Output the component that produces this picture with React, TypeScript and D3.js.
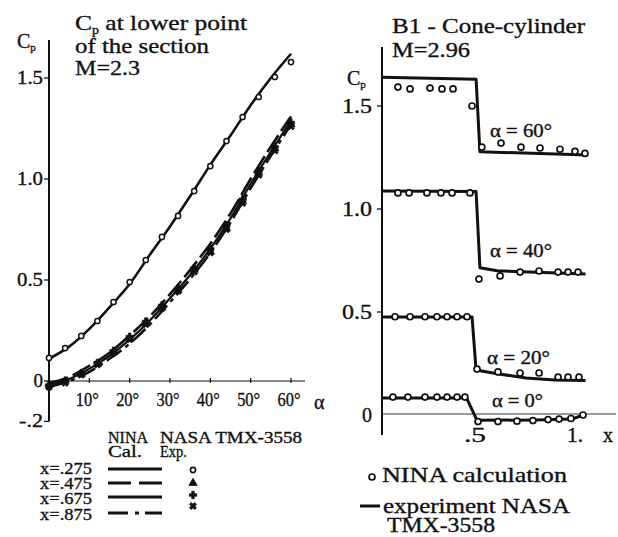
import React from "react";
import * as d3 from "d3";

// ---------- Left panel: Cp at lower point of the section, M=2.3 ----------
const alphaLine = [0, 5, 10, 15, 20, 25, 30, 35, 40, 45, 50, 55, 60];
const calc275 = [0.11, 0.17, 0.258, 0.365, 0.48, 0.625, 0.765, 0.915, 1.07, 1.215, 1.365, 1.5, 1.62];
const calc475 = [-0.01, 0.02, 0.075, 0.14, 0.225, 0.32, 0.43, 0.55, 0.68, 0.83, 1.0, 1.16, 1.31];
const calc675 = [-0.02, 0.01, 0.06, 0.125, 0.205, 0.3, 0.41, 0.525, 0.655, 0.805, 0.975, 1.135, 1.29];
const calc875 = [-0.03, 0.0, 0.045, 0.11, 0.185, 0.28, 0.39, 0.505, 0.635, 0.785, 0.955, 1.115, 1.27];

const alphaExp = [0, 4, 8, 12, 16, 20, 24, 28, 32, 36, 40, 44, 48, 52, 56, 60];
const exp275 = [0.114, 0.163, 0.223, 0.297, 0.391, 0.49, 0.599, 0.713, 0.817, 0.94, 1.064, 1.188, 1.307, 1.406, 1.505, 1.579];
const exp475 = [-0.02, 0.0, 0.035, 0.085, 0.145, 0.21, 0.285, 0.365, 0.45, 0.55, 0.64, 0.757, 0.89, 1.03, 1.15, 1.27];
const exp675 = [-0.02, 0.0, 0.04, 0.09, 0.15, 0.22, 0.295, 0.375, 0.46, 0.56, 0.655, 0.77, 0.9, 1.04, 1.16, 1.28];
const exp875 = [-0.03, -0.01, 0.03, 0.08, 0.14, 0.205, 0.28, 0.36, 0.445, 0.54, 0.635, 0.75, 0.88, 1.02, 1.14, 1.26];

const xTicksL = [10, 20, 30, 40, 50, 60];
const xTickLabelsL = ["10°", "20°", "30°", "40°", "50°", "60°"];
const yTicksL = [-0.2, 0, 0.5, 1.0, 1.5];
const yTickLabelsL = ["-.2", "0", "0.5", "1.0", "1.5"];
const legendRowsL = ["x=.275", "x=.475", "x=.675", "x=.875"];

// ---------- Right panel: B1 cone-cylinder, M=2.96 ----------
const exp60X = [0, 0.49, 0.51, 1.07];
const exp60 = [1.64, 1.63, 1.278, 1.262];
const calc60X = [0.083, 0.146, 0.25, 0.3125, 0.37, 0.469, 0.52, 0.62, 0.724, 0.823, 0.927, 1.005, 1.057];
const calc60 = [1.592, 1.583, 1.587, 1.583, 1.583, 1.5, 1.3, 1.32, 1.3, 1.296, 1.29, 1.28, 1.27];

const exp40X = [0, 0.49, 0.51, 0.6, 1.06];
const exp40 = [1.087, 1.085, 0.715, 0.7, 0.685];
const calc40X = [0.083, 0.141, 0.234, 0.307, 0.365, 0.458, 0.505, 0.615, 0.719, 0.818, 0.917, 0.969, 1.021];
const calc40 = [1.078, 1.078, 1.078, 1.078, 1.078, 1.078, 0.66, 0.675, 0.694, 0.699, 0.694, 0.694, 0.694];

const exp20X = [0, 0.469, 0.49, 0.6, 0.75, 0.9, 1.06];
const exp20 = [0.476, 0.476, 0.218, 0.2, 0.18, 0.17, 0.168];
const calc20X = [0.068, 0.146, 0.224, 0.286, 0.339, 0.391, 0.443, 0.495, 0.604, 0.719, 0.818, 0.917, 0.969, 1.026];
const calc20 = [0.477, 0.477, 0.477, 0.477, 0.477, 0.477, 0.477, 0.223, 0.209, 0.204, 0.204, 0.184, 0.184, 0.184];

const exp0X = [0, 0.44, 0.495, 0.8, 0.99, 1.047];
const exp0 = [0.083, 0.083, -0.026, -0.024, -0.02, 0.0];
const calc0X = [0.057, 0.135, 0.224, 0.286, 0.339, 0.391, 0.432, 0.5, 0.604, 0.703, 0.786, 0.865, 0.922, 0.984, 1.047];
const calc0 = [0.087, 0.087, 0.087, 0.087, 0.087, 0.087, 0.087, -0.032, -0.032, -0.03, -0.027, -0.022, -0.02, -0.017, 0.0];

const alphaLabelsR = ["α = 60°", "α = 40°", "α = 20°", "α = 0°"];
const yTicksR = [0, 0.5, 1.0, 1.5];
const yTickLabelsR = ["0", "0.5", "1.0", "1.5"];
const xTicksR = [0.5, 1];
const xTickLabelsR = [".5", "1."];

const FONT = "'Liberation Serif', 'Times New Roman', serif";
const TXT = "#111";

type TP = { x: number; y: number; w?: number; size?: number; anchor?: string; children: React.ReactNode };
function T({ x, y, w, size = 19, anchor = "start", children }: TP) {
  const extra: any = w ? { textLength: w, lengthAdjust: "spacingAndGlyphs" } : {};
  return (
    <text
      x={x}
      y={y}
      fontSize={size}
      fontFamily={FONT}
      textAnchor={anchor as any}
      fill={TXT}
      stroke={TXT}
      strokeWidth={0.35}
      {...extra}
    >
      {children}
    </text>
  );
}

export default function App() {
  const xL = d3.scaleLinear().domain([0, 60]).range([49, 291]);
  const yL = d3.scaleLinear().domain([0, 1.5]).range([381, 78]);
  const xR = d3.scaleLinear().domain([0, 1]).range([382, 574]);
  const yR = d3.scaleLinear().domain([0, 1.5]).range([415, 106]);

  const lineL = d3
    .line<[number, number]>()
    .x((d) => xL(d[0]))
    .y((d) => yL(d[1]))
    .curve(d3.curveMonotoneX);
  const lineR = d3
    .line<[number, number]>()
    .x((d) => xR(d[0]))
    .y((d) => yR(d[1]));

  const zipL = (ys: number[]) => alphaLine.map((a, i) => [a, ys[i]] as [number, number]);
  const zip = (xs: number[], ys: number[]) => xs.map((a, i) => [a, ys[i]] as [number, number]);

  const calcSeries = [
    { v: calc275, dash: undefined as string | undefined, w: 2.6 },
    { v: calc475, dash: "20,5", w: 2.6 },
    { v: calc675, dash: undefined, w: 2.2 },
    { v: calc875, dash: "18,5,4,5", w: 2.6 },
  ];

  const tri = d3.symbol().type(d3.symbolTriangle).size(30)()!;
  const cross = d3.symbol().type(d3.symbolCross).size(30)()!;

  const expL = [exp475, exp675, exp875];
  const markerPath = [tri, cross, cross];
  const markerRot = [0, 0, 45];

  const rightExp = [zip(exp60X, exp60), zip(exp40X, exp40), zip(exp20X, exp20), zip(exp0X, exp0)];
  const rightCalc = [zip(calc60X, calc60), zip(calc40X, calc40), zip(calc20X, calc20), zip(calc0X, calc0)];
  const alphaLabelPos = [
    { x: 490, y: 137, w: 62 },
    { x: 490, y: 257, w: 62 },
    { x: 487, y: 364, w: 63 },
    { x: 492, y: 407, w: 51 },
  ];

  const legendLineY = [469, 483, 497, 513];
  const legendTextY = [474, 489, 504, 520];
  const legendSymY = [470, 483, 495, 506];

  return (
    <svg width={618} height={537} style={{ position: "absolute", left: 0, top: 0, background: "#fff" }}>
      <rect x={0} y={0} width={618} height={537} fill="#fff" />

      {/* ================= LEFT PANEL ================= */}
      <text
        x={75}
        y={30}
        fontSize={22}
        fontFamily={FONT}
        fill={TXT}
        stroke={TXT}
        strokeWidth={0.35}
        textLength={172}
        lengthAdjust="spacingAndGlyphs"
      >
        C<tspan fontSize={12} dy={4}>p</tspan>
        <tspan dy={-4}> at lower  point</tspan>
      </text>
      <T x={75} y={53} w={134} size={22}>of the section</T>
      <T x={75} y={75} w={65} size={22}>M=2.3</T>

      <text x={17} y={48} fontSize={20} fontFamily={FONT} fill={TXT} stroke={TXT} strokeWidth={0.35}>
        C<tspan fontSize={11} dy={3}>p</tspan>
      </text>

      <line x1={xL(0)} x2={xL(0)} y1={40} y2={yL(-0.2)} stroke="#111" strokeWidth={2} />
      <line x1={xL(0)} x2={305} y1={yL(0)} y2={yL(0)} stroke="#111" strokeWidth={1.2} />
      {yTicksL.map((v, i) => (
        <g key={"ylt" + i}>
          <line x1={xL(0) - 5} x2={xL(0)} y1={yL(v)} y2={yL(v)} stroke="#111" strokeWidth={1.3} />
          <T
            x={43}
            y={yL(v) + 6}
            size={19}
            anchor="end"
            w={yTickLabelsL[i].length > 1 ? (yTickLabelsL[i] === "-.2" ? 24 : 26) : undefined}
          >
            {yTickLabelsL[i]}
          </T>
        </g>
      ))}
      {xTicksL.map((v, i) => (
        <g key={"xlt" + i}>
          <line x1={xL(v)} x2={xL(v)} y1={yL(0) - 3} y2={yL(0) + 2} stroke="#111" strokeWidth={1.2} />
          <T x={xL(v) - 2} y={406} size={19} anchor="middle" w={23}>
            {xTickLabelsL[i]}
          </T>
        </g>
      ))}
      <T x={314} y={409} size={20}>α</T>

      {calcSeries.map((s, i) => (
        <path
          key={"cl" + i}
          d={lineL(zipL(s.v)) || ""}
          fill="none"
          stroke="#111"
          strokeWidth={s.w}
          strokeDasharray={s.dash}
        />
      ))}
      {alphaExp.map((a, i) => (
        <circle key={"c275" + i} cx={xL(a)} cy={yL(exp275[i])} r={2.6} fill="#fff" stroke="#111" strokeWidth={1.5} />
      ))}
      {expL.map((ser, k) =>
        alphaExp.map((a, i) => (
          <path
            key={"m" + k + "-" + i}
            d={markerPath[k]}
            transform={`translate(${xL(a)},${yL(ser[i])}) rotate(${markerRot[k]})`}
            fill="#111"
            stroke="#111"
            strokeWidth={0.6}
          />
        ))
      )}

      {/* left legend */}
      <T x={108} y={443} w={40} size={17}>NINA</T>
      <T x={108} y={457} w={34} size={17}>Cal.</T>
      <T x={160} y={443} w={142} size={17}>NASA TMX-3558</T>
      <T x={160} y={457} w={27} size={17}>Exp.</T>
      {legendRowsL.map((r, i) => (
        <g key={"lg" + i}>
          <T x={40} y={legendTextY[i]} w={52} size={17}>{r}</T>
          <line
            x1={108}
            x2={162}
            y1={legendLineY[i]}
            y2={legendLineY[i]}
            stroke="#111"
            strokeWidth={3}
            strokeDasharray={i === 1 ? "23,8" : i === 3 ? "20,7,4,6" : undefined}
          />
        </g>
      ))}
      <circle cx={193} cy={legendSymY[0]} r={2.6} fill="#fff" stroke="#111" strokeWidth={1.6} />
      {[tri, cross, cross].map((p, k) => (
        <path
          key={"ls" + k}
          d={p}
          transform={`translate(193,${legendSymY[k + 1]}) rotate(${markerRot[k]})`}
          fill="#111"
          stroke="#111"
          strokeWidth={0.8}
        />
      ))}

      {/* ================= RIGHT PANEL ================= */}
      <T x={392} y={33} w={193} size={21}>B1 - Cone-cylinder</T>
      <T x={392} y={57} w={78} size={21}>M=2.96</T>
      <text x={347} y={85} fontSize={20} fontFamily={FONT} fill={TXT} stroke={TXT} strokeWidth={0.35}>
        C<tspan fontSize={11} dy={3}>p</tspan>
      </text>

      <line x1={xR(0)} x2={xR(0)} y1={47} y2={435} stroke="#111" strokeWidth={2} />
      <line x1={xR(0)} x2={616} y1={yR(0) - 1} y2={yR(0) - 1} stroke="#333" strokeWidth={1} />
      {yTicksR.map((v, i) => (
        <g key={"yrt" + i}>
          {v > 0 && <line x1={xR(0) - 5} x2={xR(0)} y1={yR(v)} y2={yR(v)} stroke="#111" strokeWidth={1.3} />}
          <T x={372} y={yR(v) + 7} size={20} anchor="end" w={yTickLabelsR[i].length > 1 ? 30 : undefined}>
            {yTickLabelsR[i]}
          </T>
        </g>
      ))}
      {xTicksR.map((v, i) => (
        <T key={"xrt" + i} x={xR(v) - (i === 0 ? 3 : -1)} y={442} size={20} anchor="middle" w={i === 0 ? 22 : 16}>
          {xTickLabelsR[i]}
        </T>
      ))}
      <T x={603} y={442} size={20}>x</T>

      {rightExp.map((pts, i) => (
        <path key={"re" + i} d={lineR(pts) || ""} fill="none" stroke="#111" strokeWidth={3} strokeLinejoin="round" />
      ))}
      {rightCalc.map((pts, i) =>
        pts.map((p, j) => (
          <circle key={"rc" + i + "-" + j} cx={xR(p[0])} cy={yR(p[1])} r={3} fill="#fff" stroke="#111" strokeWidth={1.7} />
        ))
      )}
      {alphaLabelsR.map((s, i) => (
        <T key={"al" + i} x={alphaLabelPos[i].x} y={alphaLabelPos[i].y} w={alphaLabelPos[i].w} size={19}>
          {s}
        </T>
      ))}

      {/* right legend */}
      <circle cx={372} cy={477} r={3} fill="#fff" stroke="#111" strokeWidth={1.7} />
      <T x={382} y={482} w={185} size={21}>NINA calculation</T>
      <line x1={360} x2={380} y1={506} y2={506} stroke="#111" strokeWidth={3} />
      <T x={383} y={513} w={187} size={21}>experiment NASA</T>
      <T x={387} y={532} w={108} size={20}>TMX-3558</T>
    </svg>
  );
}
